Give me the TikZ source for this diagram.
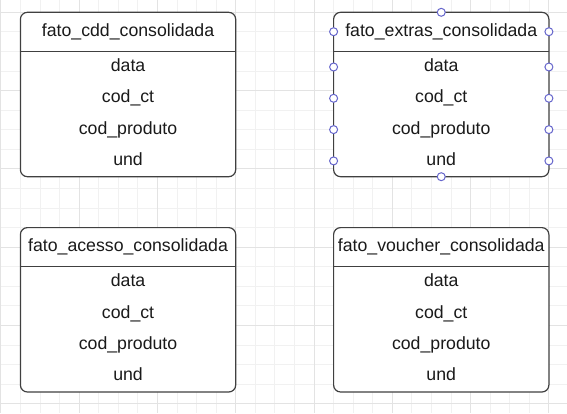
\documentclass[tikz,border=0pt]{standalone}
\usepackage{fontspec}
\setmainfont{Liberation Sans}
\definecolor{linha}{HTML}{404040}
\definecolor{texto}{HTML}{1A1A1A}
\definecolor{alca}{HTML}{6666CC}
\definecolor{gradeclara}{HTML}{F1F1F1}
\definecolor{gradeforte}{HTML}{E3E3E3}

% tabela: nome, x, y (canto superior esquerdo), titulo
\newcommand{\tabela}[4]{%
  \node[caixa] (#1) at (#2+107.65,#3+82.2) {};
  \draw[divisa] ([yshift=-39.1pt]#1.north west) -- ([yshift=-39.1pt]#1.north east);
  \node[campo] (#1-0) at ([yshift=-21.3pt]#1.north) {#4};
  \foreach \f [count=\i] in {data,cod\_ct,cod\_produto,und}
    \node[campo] (#1-\i) at ([yshift={-25.3pt-31.3pt*\i}]#1.north) {\f};
}

\begin{document}
\begin{tikzpicture}[x=1pt, y=-1pt,
  grade/.style={gradeclara, line width=.8pt},
  gradef/.style={gradeforte, line width=.8pt},
  caixa/.style={draw=linha, fill=white, line width=1.2pt, rounded corners=7pt,
    minimum width=215.3pt, minimum height=164.4pt, inner sep=0pt, outer sep=0pt},
  divisa/.style={linha, line width=1.2pt},
  campo/.style={texto, font=\fontsize{17.7}{21}\selectfont, inner sep=0pt,
    text height=.72em, text depth=.21em},
  alcastyle/.style={circle, draw=alca, fill=white, line width=1pt,
    minimum size=8pt, inner sep=0pt}]
\useasboundingbox (0,0) rectangle (567,413);
\fill[white] (0,0) rectangle (567,413);

% grade de fundo
\foreach \i in {0,...,28}
    \draw[grade] ({0.8+19.57*\i},0) -- ({0.8+19.57*\i},413);
\foreach \j in {-1,...,20}
    \draw[grade] (0,{12.3+19.57*\j}) -- (567,{12.3+19.57*\j});
\foreach \i in {0,...,7}
    \draw[gradef] ({0.8+78.28*\i},0) -- ({0.8+78.28*\i},413);
\foreach \j in {0,...,5}
    \draw[gradef] (0,{12.3+78.28*\j}) -- (567,{12.3+78.28*\j});

\tabela{fatocdd}{20.4}{12.3}{fato\_cdd\_consolidada}
\tabela{fatoextras}{333.6}{12.3}{fato\_extras\_consolidada}
\tabela{fatoacesso}{20.4}{227.6}{fato\_acesso\_consolidada}
\tabela{fatovoucher}{333.6}{227.6}{fato\_voucher\_consolidada}

% pontos de conexao
\foreach \n in {0,1,2,3,4}
{
    \node[alcastyle] (alca-w-\n) at ([yshift=1.9pt]fatoextras.west |- fatoextras-\n) {};
    \node[alcastyle] (alca-e-\n) at ([yshift=1.9pt]fatoextras.east |- fatoextras-\n) {};
}
\node[alcastyle] (alca-n) at (fatoextras.north) {};
\node[alcastyle] (alca-s) at (fatoextras.south) {};
\end{tikzpicture}
\end{document}
